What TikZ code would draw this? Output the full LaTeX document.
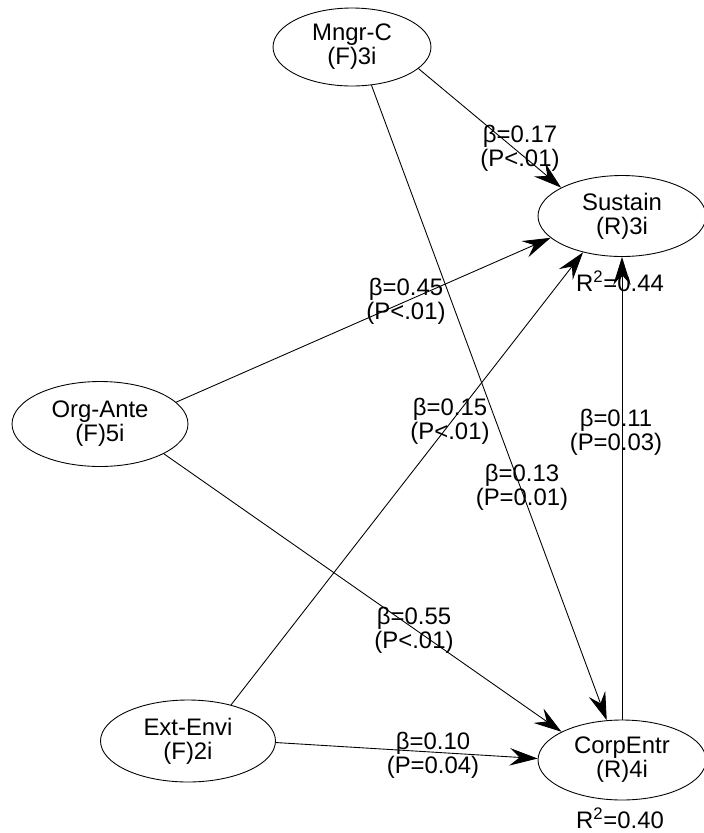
\documentclass[tikz,border=0pt]{standalone}
\usepackage{fontspec}
\setmainfont{Liberation Sans}
\usetikzlibrary{arrows.meta, shapes.geometric}

\begin{document}
\begin{tikzpicture}[x=0.02cm, y=-0.02cm,
                    every node/.style = {font=\fontsize{13.6}{13.6}\selectfont,
                      align=center},
  construct/.style = {draw, ellipse, line width=0.5pt, inner sep=0pt,
    minimum width=3.36cm, minimum height=1.62cm},
  link/.style      = {-{Stealth[length=5.6mm,width=3.5mm,inset=2mm]},
    line width=0.5pt},
  coef/.style      = {inner sep=0pt}
  ]
  \useasboundingbox (0,0) rectangle (704,833);
  % constructs
  \node[construct, minimum width=3.16cm, minimum height=1.56cm] (MngrC) at (352,47) {Mngr-C\\(F)3i};
  \node[construct] (Sustain) at (622,216) {Sustain\\(R)3i};
  \node[construct, minimum width=3.52cm, minimum height=1.7cm] (OrgAnte) at (100,424) {Org-Ante\\(F)5i};
  \node[construct, minimum width=3.5cm, minimum height=1.64cm] (ExtEnvi) at (188,741) {Ext-Envi\\(F)2i};
  \node[construct, minimum height=1.6cm] (CorpEntr) at (622,760) {CorpEntr\\(R)4i};
  \node[coef] (RSustain) at (620,281) {R\textsuperscript{2}=0.44};
  \node[coef] (RCorpEntr) at (620,818) {R\textsuperscript{2}=0.40};
  % paths
  \draw[link] (MngrC.342) -- (Sustain.155);
  \draw[link] (OrgAnte.16) -- (Sustain.197);
  \draw[link] (ExtEnvi.40) -- (Sustain.223);
  \draw[link] (MngrC.297) -- (CorpEntr.111);
  \draw[link] (OrgAnte.335) -- (CorpEntr.155);
  \draw[link] (ExtEnvi.359) -- (CorpEntr.179);
  \draw[link] (CorpEntr.north) -- (Sustain.south);
  % coefficients
  \node[coef] (bMS) at (520,148) {β=0.17\\(P<.01)};
  \node[coef] (bOS) at (406,301) {β=0.45\\(P<.01)};
  \node[coef] (bES) at (450,421) {β=0.15\\(P<.01)};
  \node[coef] (bMC) at (522,487) {β=0.13\\(P=0.01)};
  \node[coef] (bCS) at (616,432) {β=0.11\\(P=0.03)};
  \node[coef] (bOC) at (414,630) {β=0.55\\(P<.01)};
  \node[coef] (bEC) at (433,755) {β=0.10\\(P=0.04)};
\end{tikzpicture}
\end{document}
